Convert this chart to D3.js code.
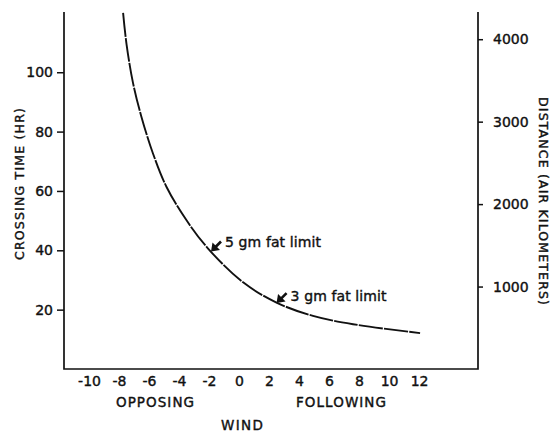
<!DOCTYPE html>
<html><head><meta charset="utf-8">
<script src="https://cdn.jsdelivr.net/npm/d3@7"></script>
<style>
html,body{margin:0;padding:0;background:#fff;}
svg{display:block;}
text{font-family:"DejaVu Sans",sans-serif;fill:#111;stroke:#111;stroke-width:0.4px;}
</style></head>
<body>
<svg id="chart" width="552" height="433"></svg>
<script>
// Data
const windSpeed    = [-7.73, -7.5, -7.07, -6.52, -5.75, -4.85, -3.5, -2.05, 0.27, 2.53, 4.93, 7.6, 12.07];
const crossingTime = [120, 109.4, 96.4, 85.2, 72.8, 61.5, 50.1, 40.5, 29.2, 22.3, 17.9, 15.1, 12.1];
const xTicks = [-10, -8, -6, -4, -2, 0, 2, 4, 6, 8, 10, 12];
const yTicks = [20, 40, 60, 80, 100];
const distTicks = [1000, 2000, 3000, 4000];
const annotations = [
  {label: "5 gm fat limit", wind: -1.87, time: 39.6, dy: -4},
  {label: "3 gm fat limit", wind: 2.5, time: 22.2, dy: -2}
];

const svg = d3.select("#chart");
const mLeft = 64, mRight = 478, mTop = 12, mBottom = 369;

const x = d3.scaleLinear().domain([-11.67, 15.93]).range([mLeft, mRight]);
const y = d3.scaleLinear().domain([0, 120.3]).range([mBottom, mTop]);
const yR = d3.scaleLinear().domain([0, 4330]).range([mBottom, mTop]);

// frame lines (left, bottom, right)
svg.append("path")
  .attr("d", `M${mLeft},${mTop}V${mBottom}H${mRight}V${mTop}`)
  .attr("fill", "none").attr("stroke", "#111").attr("stroke-width", 1.7);

// left axis
const gL = svg.append("g").attr("transform", `translate(${mLeft},0)`)
  .call(d3.axisLeft(y).tickValues(yTicks).tickSize(7).tickPadding(4).tickFormat(d => String(d)));
gL.select(".domain").remove();
gL.selectAll("line").attr("stroke", "#111").attr("stroke-width", 1.5);
gL.selectAll("text").style("font-size", "14px").style("font-family", "DejaVu Sans").attr("fill", "#111");

// right axis
const gR = svg.append("g").attr("transform", `translate(${mRight},0)`)
  .call(d3.axisRight(yR).tickValues(distTicks).tickSize(5).tickPadding(10).tickFormat(d => String(d)));
gR.select(".domain").remove();
gR.selectAll("line").attr("stroke", "#111").attr("stroke-width", 1.5);
gR.selectAll("text").style("font-size", "14px").style("font-family", "DejaVu Sans").attr("fill", "#111");

// bottom axis
const gB = svg.append("g").attr("transform", `translate(0,${mBottom})`)
  .call(d3.axisBottom(x).tickValues(xTicks).tickSize(0).tickPadding(7).tickFormat(d => String(d)));
gB.select(".domain").remove();
gB.selectAll("text").style("font-size", "14px").style("font-family", "DejaVu Sans").attr("fill", "#111");

// curve
const line = d3.line().x((d, i) => x(windSpeed[i])).y(d => y(d)).curve(d3.curveCatmullRom.alpha(0.5));
svg.append("path")
  .attr("d", line(crossingTime))
  .attr("fill", "none").attr("stroke", "#111").attr("stroke-width", 1.9)
  .attr("stroke-dasharray", "24,1.2");

// annotations with arrows
const arrowG = svg.append("g");
annotations.forEach(a => {
  const tx = x(a.wind), ty = y(a.time);
  arrowG.append("line")
    .attr("x1", tx + 4).attr("y1", ty - 4).attr("x2", tx + 10).attr("y2", ty - 10)
    .attr("stroke", "#111").attr("stroke-width", 2.6);
  arrowG.append("path")
    .attr("d", `M${tx},${ty} L${tx + 1.5},${ty - 9} L${tx + 9},${ty - 1.5} Z`)
    .attr("fill", "#111");
  svg.append("text")
    .attr("x", tx + 14).attr("y", ty + a.dy)
    .style("font-size", "14px")
    .attr("textLength", 96).attr("lengthAdjust", "spacing")
    .text(a.label);
});

// axis titles
svg.append("text")
  .attr("transform", `translate(24,184) rotate(-90)`)
  .attr("text-anchor", "middle")
  .style("font-size", "12.5px")
  .attr("textLength", 152).attr("lengthAdjust", "spacing")
  .text("CROSSING  TIME  (HR)");

svg.append("text")
  .attr("transform", `translate(539,201) rotate(90)`)
  .attr("text-anchor", "middle")
  .style("font-size", "12.5px")
  .attr("textLength", 208).attr("lengthAdjust", "spacing")
  .text("DISTANCE  (AIR KILOMETERS)");

svg.append("text").attr("x", 155).attr("y", 407).attr("text-anchor", "middle")
  .style("font-size", "13.5px").attr("textLength", 78).attr("lengthAdjust", "spacing").text("OPPOSING");
svg.append("text").attr("x", 341).attr("y", 407).attr("text-anchor", "middle")
  .style("font-size", "13.5px").attr("textLength", 90).attr("lengthAdjust", "spacing").text("FOLLOWING");
svg.append("text").attr("x", 242).attr("y", 430).attr("text-anchor", "middle")
  .style("font-size", "13.5px").attr("textLength", 42).attr("lengthAdjust", "spacing").text("WIND");
</script>
</body></html>
